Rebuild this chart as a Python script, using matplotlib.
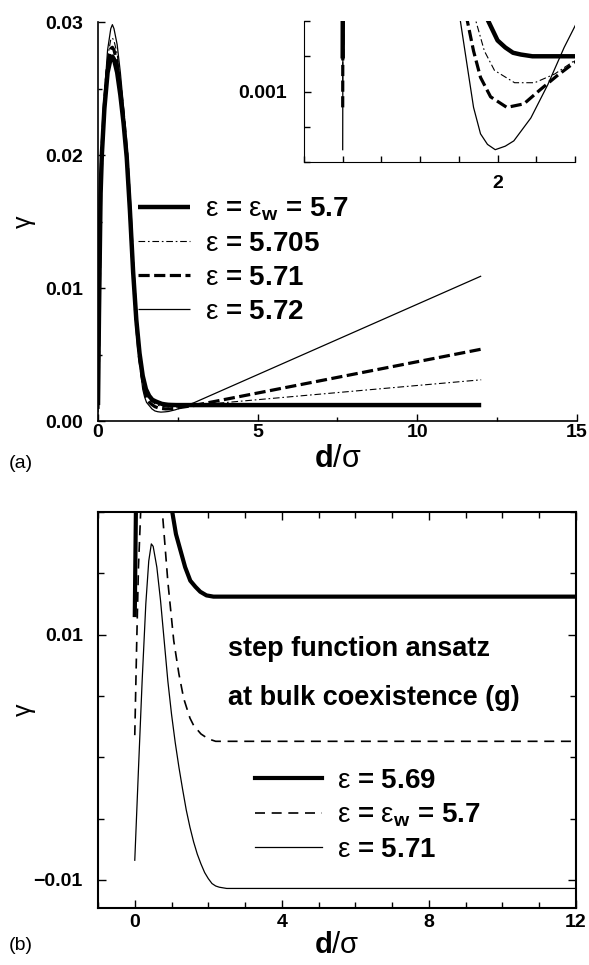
import matplotlib
matplotlib.use("Agg")
import matplotlib.pyplot as plt
from matplotlib.ticker import MultipleLocator, FixedLocator, FixedFormatter

plt.rcParams["font.family"] = ["Liberation Sans", "DejaVu Sans"]
plt.rcParams["mathtext.fontset"] = "custom"
plt.rcParams["mathtext.rm"] = "Liberation Sans"
plt.rcParams["mathtext.bf"] = "Liberation Sans:bold"
plt.rcParams["mathtext.it"] = "Liberation Sans:italic"

# ---- panel (a): gamma(d) near wetting, eps = 5.7 ... 5.72 ----
d_a_57 = [0, 0.03, 0.08, 0.12, 0.2, 0.3, 0.4, 0.45, 0.5, 0.6, 0.7, 0.8, 0.9, 1.0,
          1.1, 1.2, 1.3, 1.4, 1.5, 1.6, 1.7, 1.8, 1.88, 2.0, 2.1, 2.2, 2.3, 2.45, 12]
g_a_57 = [0.0012, 0.008, 0.017, 0.020, 0.0235, 0.0262, 0.0273, 0.0274, 0.0272, 0.0262,
          0.0245, 0.0224, 0.0198, 0.0158, 0.0112, 0.0076, 0.0051, 0.0034, 0.0024, 0.0019,
          0.0016, 0.00148, 0.0014, 0.00129, 0.00125, 0.00122, 0.00121, 0.0012, 0.0012]

d_a_5705 = [0, 0.03, 0.08, 0.12, 0.2, 0.3, 0.4, 0.45, 0.5, 0.6, 0.7, 0.8, 0.9, 1.0,
            1.1, 1.2, 1.3, 1.4, 1.5, 1.6, 1.72, 1.83, 1.96, 2.22, 2.48, 2.74, 3.01, 12]
g_a_5705 = [0.00105, 0.008, 0.017, 0.0203, 0.0241, 0.0273, 0.0287, 0.0288, 0.0286, 0.0276,
            0.0256, 0.0232, 0.0203, 0.0161, 0.0113, 0.0075, 0.0049, 0.0032, 0.0022, 0.0016,
            0.0014, 0.00123, 0.00112, 0.00105, 0.00105, 0.0011, 0.00118, 0.0031]

d_a_571 = [0, 0.03, 0.08, 0.12, 0.2, 0.3, 0.4, 0.45, 0.5, 0.6, 0.7, 0.8, 0.9, 1.0,
           1.1, 1.2, 1.3, 1.4, 1.5, 1.61, 1.69, 1.78, 1.91, 2.12, 2.34, 2.55, 2.77, 3.01, 12]
g_a_571 = [0.00091, 0.008, 0.017, 0.0202, 0.0238, 0.0268, 0.0280, 0.0281, 0.0279, 0.0269,
           0.0251, 0.0229, 0.0202, 0.0160, 0.0113, 0.0074, 0.0047, 0.0030, 0.0019, 0.0014,
           0.00123, 0.00108, 0.00097, 0.00091, 0.00093, 0.00101, 0.00109, 0.00117, 0.0054]

d_a_572 = [0, 0.03, 0.08, 0.12, 0.2, 0.3, 0.4, 0.45, 0.5, 0.6, 0.7, 0.8, 0.9, 1.0,
           1.1, 1.2, 1.3, 1.4, 1.46, 1.52, 1.61, 1.69, 1.78, 1.87, 1.97, 2.1, 2.21, 2.43,
           2.65, 2.86, 3.01, 12]
g_a_572 = [0.00067, 0.008, 0.017, 0.0205, 0.0245, 0.0279, 0.0295, 0.0298, 0.0295, 0.0283,
           0.0262, 0.0236, 0.0205, 0.0162, 0.0113, 0.0072, 0.0044, 0.0024, 0.0018, 0.0014,
           0.00114, 0.00091, 0.00076, 0.0007, 0.00067, 0.00069, 0.00072, 0.00085,
           0.00104, 0.00125, 0.00138, 0.0109]

labels_a = [r"$\mathrm{\varepsilon}$ = $\mathrm{\varepsilon}_\mathbf{w}$ = 5.7",
            r"$\mathrm{\varepsilon}$ = 5.705",
            r"$\mathrm{\varepsilon}$ = 5.71",
            r"$\mathrm{\varepsilon}$ = 5.72"]

# ---- panel (b): step function ansatz at bulk coexistence ----
d_b_569 = [0, 0.03, 0.1, 0.2, 0.3, 0.45, 0.6, 0.75, 0.9, 1.02, 1.12, 1.24, 1.37, 1.51,
           1.65, 1.78, 1.95, 2.14, 12]
g_b_569 = [0.0116, 0.020, 0.026, 0.030, 0.032, 0.033, 0.032, 0.029, 0.024, 0.020,
           0.0182, 0.0169, 0.0155, 0.0144, 0.0139, 0.0135, 0.0132, 0.0131, 0.0131]

d_b_570 = [0, 0.05, 0.1, 0.16, 0.3, 0.45, 0.6, 0.75, 0.9, 1.06, 1.2, 1.33, 1.5, 1.6,
           1.8, 2.0, 2.2, 2.4, 12]
g_b_570 = [0.0018, 0.009, 0.0155, 0.020, 0.024, 0.0255, 0.024, 0.020, 0.0143, 0.0095,
           0.0068, 0.0048, 0.0032, 0.0026, 0.0019, 0.0015, 0.0013, 0.0013, 0.0013]

d_b_571 = [0, 0.1, 0.2, 0.3, 0.38, 0.45, 0.5, 0.6, 0.7, 0.8, 0.9, 1.0, 1.1, 1.2, 1.3,
           1.4, 1.5, 1.6, 1.7, 1.8, 1.9, 2.0, 2.1, 2.2, 2.3, 2.5, 12]
g_b_571 = [-0.0084, -0.001, 0.0062, 0.0125, 0.016, 0.0174, 0.0172, 0.0155, 0.0128, 0.0095,
           0.0062, 0.0035, 0.0012, -0.0008, -0.0026, -0.0043, -0.0057, -0.0069, -0.0079,
           -0.0087, -0.0094, -0.0099, -0.0103, -0.0105, -0.0106, -0.0107, -0.0107]

labels_b = [r"$\mathrm{\varepsilon}$ = 5.69",
            r"$\mathrm{\varepsilon}$ = $\mathrm{\varepsilon}_\mathbf{w}$ = 5.7",
            r"$\mathrm{\varepsilon}$ = 5.71"]

TICK_FS = 14
LEG_FS = 20

fig = plt.figure(figsize=(5.89, 9.65), dpi=100)


def bold_ticks(a):
    for t in a.get_xticklabels() + a.get_yticklabels():
        t.set_fontweight("bold")


# ── top panel ─────────────────────────────────────────────
ax = fig.add_axes([0.1664, 0.5637, 0.8132, 0.4135])
styles_a = [
    dict(color="black", lw=3.2, ls="-"),
    dict(color="black", lw=0.8, ls=(0, (6, 2.5, 1.5, 2.5))),
    dict(color="black", lw=2.3, ls=(0, (3.5, 1.4))),
    dict(color="black", lw=0.9, ls="-"),
]
curves_a = [(d_a_57, g_a_57), (d_a_5705, g_a_5705), (d_a_571, g_a_571), (d_a_572, g_a_572)]
for (d, g), st, lab in zip(curves_a, styles_a, labels_a):
    ax.plot(d, g, label=lab, solid_capstyle="butt", **st)

ax.set_xlim(0, 15)
ax.set_ylim(0, 0.03)
ax.spines["top"].set_visible(False)
ax.spines["right"].set_visible(False)
for s in ("left", "bottom"):
    ax.spines[s].set_linewidth(1.2)
ax.xaxis.set_major_locator(MultipleLocator(5))
ax.xaxis.set_minor_locator(MultipleLocator(2.5))
ax.yaxis.set_major_locator(MultipleLocator(0.01))
ax.yaxis.set_minor_locator(MultipleLocator(0.005))
ax.yaxis.set_major_formatter(plt.FuncFormatter(lambda v, p: f"{v:.2f}"))
ax.tick_params(which="both", direction="in", width=1.0, labelsize=TICK_FS)
ax.tick_params(axis="x", pad=2)
ax.tick_params(axis="y", pad=11)
ax.tick_params(which="major", length=5)
ax.tick_params(which="minor", length=3)
bold_ticks(ax)
ax.set_xlabel(r"$\mathbf{d}$/σ", fontsize=22, labelpad=2)
ax.set_ylabel("γ", fontsize=18)
ax.yaxis.set_label_coords(-0.13, 0.5)

ax.legend(loc="upper left", bbox_to_anchor=(0.234, 0.797), bbox_transform=fig.transFigure,
          frameon=False, prop=dict(weight="bold", size=LEG_FS),
          handlelength=1.87, handletextpad=0.55, labelspacing=0.28, borderpad=0,
          borderaxespad=0)

# inset around the minimum
axi = fig.add_axes([0.5161, 0.8321, 0.4601, 0.1461])
for (d, g), st in zip(curves_a, styles_a):
    axi.plot(d, g, **st)
axi.set_xlim(-0.5, 3.0)
axi.set_ylim(0.0006, 0.0014)
axi.spines["top"].set_visible(False)
axi.spines["right"].set_visible(False)
axi.xaxis.set_major_locator(FixedLocator([2]))
axi.xaxis.set_major_formatter(FixedFormatter(["2"]))
axi.xaxis.set_minor_locator(MultipleLocator(0.5))
axi.yaxis.set_major_locator(FixedLocator([0.001]))
axi.yaxis.set_major_formatter(FixedFormatter(["0.001"]))
axi.yaxis.set_minor_locator(MultipleLocator(0.0002))
axi.tick_params(which="both", direction="in", width=1.0, labelsize=TICK_FS)
axi.tick_params(axis="x", pad=9)
axi.tick_params(axis="y", pad=12)
axi.tick_params(which="major", length=5)
axi.tick_params(which="minor", length=4)
bold_ticks(axi)

fig.text(0.035, 1 - 463 / 965, "(a)", fontsize=14, ha="center", va="center")

# ── bottom panel ──────────────────────────────────────────
bx = fig.add_axes([0.1664, 0.0590, 0.8115, 0.4104])
styles_b = [
    dict(color="black", lw=3.0, ls="-"),
    dict(color="black", lw=1.2, ls=(0, (6, 4))),
    dict(color="black", lw=0.9, ls="-"),
]
curves_b = [(d_b_569, g_b_569), (d_b_570, g_b_570), (d_b_571, g_b_571)]
for (d, g), st, lab in zip(curves_b, styles_b, labels_b):
    bx.plot(d, g, label=lab, **st)

bx.set_xlim(-1, 12)
bx.set_ylim(-0.0123, 0.020)
for s in bx.spines.values():
    s.set_linewidth(1.5)
bx.xaxis.set_major_locator(MultipleLocator(4))
bx.xaxis.set_minor_locator(MultipleLocator(1))
bx.yaxis.set_major_locator(FixedLocator([-0.01, 0.01]))
bx.yaxis.set_major_formatter(FixedFormatter(["\u22120.01", "0.01"]))
bx.yaxis.set_minor_locator(MultipleLocator(0.005))
bx.tick_params(which="both", direction="in", width=1.0, labelsize=TICK_FS,
               top=True, right=True)
bx.tick_params(axis="x", pad=4)
bx.tick_params(axis="y", pad=11)
bx.tick_params(which="major", length=6)
bx.tick_params(which="minor", length=4)
bold_ticks(bx)
bx.set_xlabel(r"$\mathbf{d}$/σ", fontsize=21, labelpad=0)
bx.set_ylabel("γ", fontsize=18)
bx.yaxis.set_label_coords(-0.13, 0.5)

bx.text(0.272, 0.655, "step function ansatz", transform=bx.transAxes,
        fontsize=19.5, fontweight="bold", va="center", ha="left")
bx.text(0.272, 0.53, "at bulk coexistence (g)", transform=bx.transAxes,
        fontsize=19.5, fontweight="bold", va="center", ha="left")

bx.legend(loc="upper left", bbox_to_anchor=(0.433, 0.204), bbox_transform=fig.transFigure,
          frameon=False, prop=dict(weight="bold", size=LEG_FS),
          handlelength=2.4, handletextpad=0.55, labelspacing=0.28, borderpad=0,
          borderaxespad=0)

fig.text(0.035, 1 - 946 / 965, "(b)", fontsize=14, ha="center", va="center")

fig.savefig("out.png", dpi=100)
